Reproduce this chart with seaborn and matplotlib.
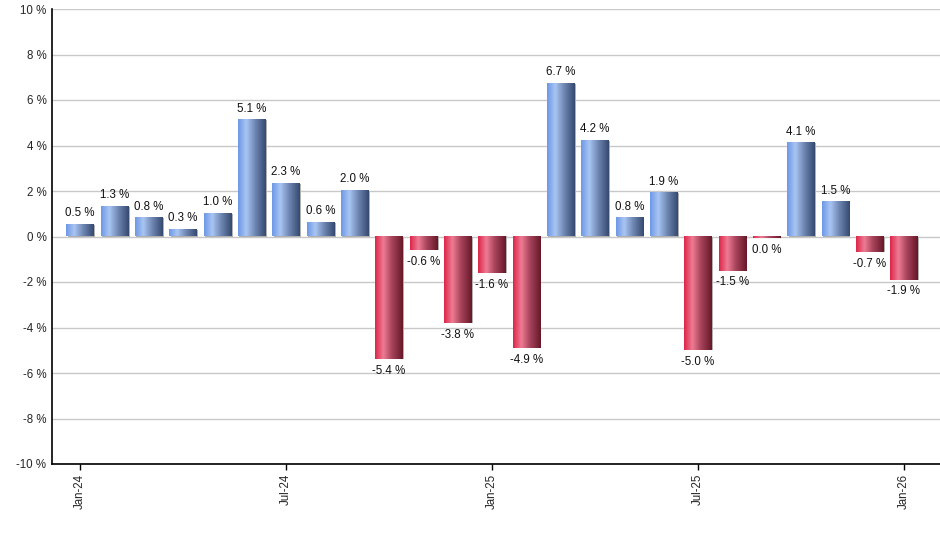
import numpy as np
import pandas as pd
import matplotlib
matplotlib.use("Agg")
import matplotlib.pyplot as plt
from matplotlib.colors import LinearSegmentedColormap
import seaborn as sns

months = ["Jan-24", "Feb-24", "Mar-24", "Apr-24", "May-24", "Jun-24", "Jul-24", "Aug-24",
          "Sep-24", "Oct-24", "Nov-24", "Dec-24", "Jan-25", "Feb-25", "Mar-25", "Apr-25",
          "May-25", "Jun-25", "Jul-25", "Aug-25", "Sep-25", "Oct-25", "Nov-25", "Dec-25",
          "Jan-26"]
returns = [0.5, 1.3, 0.8, 0.3, 1.0, 5.1, 2.3, 0.6, 2.0, -5.4, -0.6, -3.8, -1.6, -4.9,
           6.7, 4.2, 0.8, 1.9, -5.0, -1.5, -0.04, 4.1, 1.5, -0.7, -1.9]
tick_labels = ["Jan-24", "Jul-24", "Jan-25", "Jul-25", "Jan-26"]
y_ticks = list(range(-10, 11, 2))

df = pd.DataFrame({"month": months, "ret": returns})

sns.set_style("white")
plt.rcParams["font.family"] = ["Liberation Sans", "DejaVu Sans"]

fig = plt.figure(figsize=(9.4, 5.5), dpi=100)
ax = fig.add_axes([52 / 940, 1 - 464 / 550, 1 - 52 / 940, (464 - 9) / 550])

sns.barplot(data=df, x="month", y="ret", ax=ax, color="#6f9ae8", width=0.8,
            saturation=1, zorder=3)

blue_cmap = LinearSegmentedColormap.from_list(
    "b", [(0, "#6d98e6"), (0.3, "#a9c5f2"), (0.6, "#7189b5"), (1, "#34496f")])
red_cmap = LinearSegmentedColormap.from_list(
    "r", [(0, "#dc2448"), (0.3, "#ee7c94"), (0.6, "#a8445c"), (1, "#661828")])
grad = np.linspace(0, 1, 256).reshape(1, -1)

for patch, val in zip(ax.patches, returns):
    x0, y0 = patch.get_x(), patch.get_y()
    w, h = patch.get_width(), patch.get_height()
    ylo, yhi = min(y0, y0 + h), max(y0, y0 + h)
    if yhi - ylo < 0.06:
        ylo, yhi = -0.06, 0.0
    # shadow
    ax.add_patch(plt.Rectangle((x0 + 0.04, ylo), w, yhi - ylo, color="#b0b0b0",
                               zorder=2.5, lw=0))
    cmap = blue_cmap if val >= 0 else red_cmap
    ax.imshow(grad, cmap=cmap, aspect="auto", extent=(x0, x0 + w, ylo, yhi),
              zorder=3.5, interpolation="bilinear")
    patch.set_alpha(0)
    label = f"{abs(val) if round(val, 1) == 0 else val:.1f} %"
    if val >= 0:
        ax.text(x0 + w / 2, yhi + 0.25, label, ha="center", va="bottom",
                fontsize=8.3, color="#111111", zorder=5)
    else:
        ax.text(x0 + w / 2, ylo - 0.25, label, ha="center", va="top",
                fontsize=8.3, color="#111111", zorder=5)

ax.set_xlim(-0.82, 25.05)
ax.set_ylim(-10, 10)
ax.set_yticks(y_ticks)
ax.set_yticklabels([f"{t} %" for t in y_ticks], fontsize=8.3)
pos = [months.index(t) for t in tick_labels]
ax.set_xticks(pos)
ax.set_xticklabels(tick_labels, rotation=90, fontsize=8.3)
ax.tick_params(axis="x", length=4, width=1, color="black", pad=3, direction="out")
ax.tick_params(axis="y", length=0, pad=4)
ax.set_xlabel("")
ax.set_ylabel("")
ax.grid(axis="y", color="#c8c8c8", lw=1, zorder=0)
ax.set_axisbelow(True)
for s in ["top", "right"]:
    ax.spines[s].set_visible(False)
for s in ["left", "bottom"]:
    ax.spines[s].set_color("black")
    ax.spines[s].set_linewidth(1.2)
    ax.spines[s].set_zorder(6)
ax.xaxis.set_ticks_position("bottom")

fig.savefig("out.png", dpi=100)
